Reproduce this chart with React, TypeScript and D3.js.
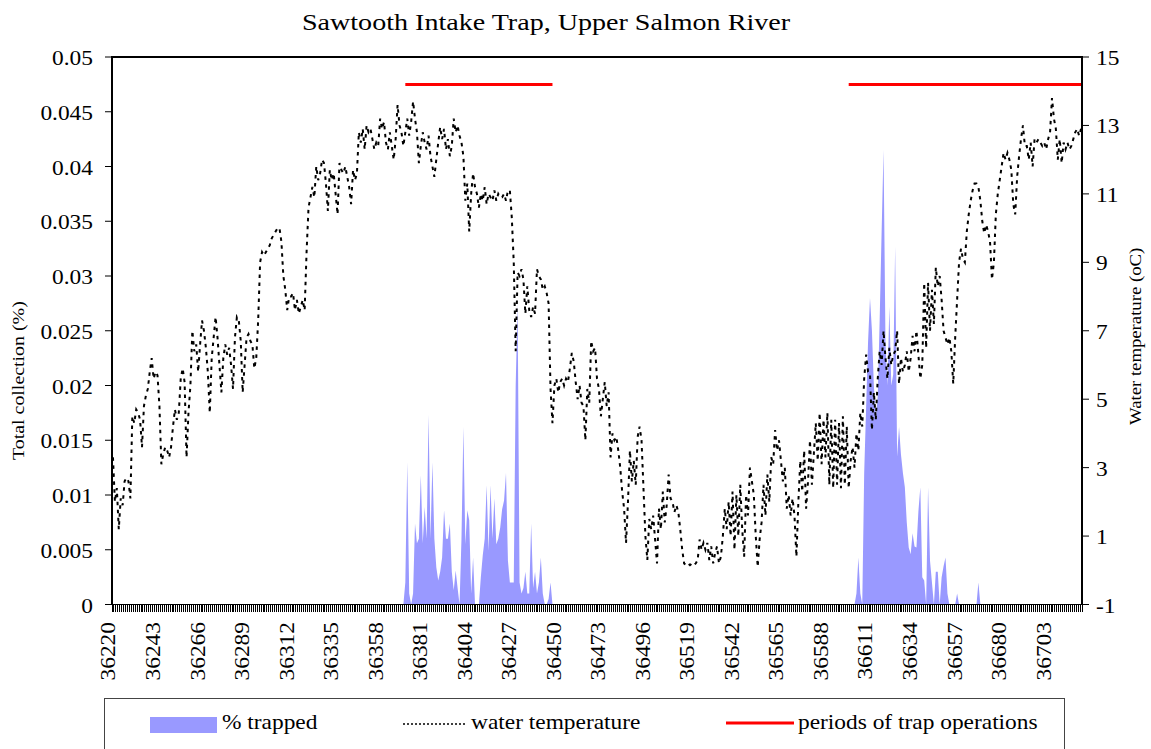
import React from 'react';
import * as d3 from 'd3';

const startDate = 36220;

const temps: number[] = [
  3.3, 2.0, 2.4, 1.2, 2.1, 1.9, 2.6, 2.7, 2.6, 2.1,
  4.5, 4.3, 4.7, 4.6, 4.4, 3.6, 4.8, 5.1, 5.3, 5.8,
  6.2, 5.6, 5.8, 5.7, 4.8, 3.1, 3.4, 3.6, 3.5, 3.3,
  3.6, 4.2, 4.7, 4.4, 4.6, 5.6, 5.9, 5.5, 3.3, 4.6,
  5.4, 7.0, 6.4, 6.6, 5.8, 6.6, 7.3, 7.0, 6.5, 5.8,
  4.6, 6.2, 6.8, 7.4, 6.8, 6.0, 5.2, 6.2, 6.6, 6.3,
  6.5, 6.0, 5.3, 6.8, 7.4, 7.3, 6.7, 5.2, 6.0, 6.8,
  6.9, 6.7, 6.6, 5.9, 6.2, 7.3, 9.0, 9.3, 9.2, 9.3,
  9.4, 9.5, 9.7, 9.8, 9.9, 10.0, 10.0, 9.6, 8.6, 8.2,
  7.6, 8.0, 8.0, 8.1, 7.6, 7.9, 7.5, 7.7, 7.9, 7.6,
  9.3, 10.6, 10.9, 11.2, 10.9, 11.8, 11.4, 11.6, 12.0, 11.9,
  11.3, 10.5, 11.7, 11.4, 11.6, 11.0, 10.4, 11.9, 11.7, 11.6,
  11.8, 11.5, 11.2, 10.7, 11.7, 11.4, 11.6, 12.8, 12.5, 12.9,
  12.3, 13.0, 12.8, 12.9, 12.6, 12.3, 12.5, 12.4, 13.2, 12.9,
  13.1, 12.5, 12.3, 12.8, 12.4, 12.0, 12.6, 13.6, 13.0, 12.8,
  12.4, 12.8, 13.2, 12.7, 13.1, 13.7, 13.2, 12.8, 11.9, 12.4,
  12.8, 12.5, 12.3, 12.7, 12.1, 11.8, 11.5, 12.0, 12.5, 12.95,
  12.6, 12.9, 12.3, 12.6, 12.1, 12.4, 13.2, 12.8, 13.0, 12.7,
  12.5, 12.1, 10.8, 11.3, 9.9, 11.0, 11.6, 11.2, 11.0, 10.6,
  11.0, 10.8, 11.2, 10.7, 11.0, 10.9, 10.8, 11.1, 10.8, 11.0,
  10.9, 10.9, 11.0, 10.8, 11.1, 11.1, 10.3, 9.0, 6.4, 8.7,
  8.6, 8.8, 8.5, 7.5, 8.3, 7.6, 7.4, 7.7, 7.5, 8.8,
  8.6, 8.5, 8.2, 8.3, 8.1, 7.8, 5.3, 4.3, 5.4, 5.6,
  5.2, 5.5, 5.6, 5.4, 5.6, 5.5, 5.9, 6.35, 6.1, 5.5,
  5.0, 5.4, 4.9, 4.8, 3.8, 5.3, 4.9, 6.7, 6.4, 6.5,
  5.6, 5.3, 4.5, 5.0, 5.5, 4.8, 5.2, 3.3, 4.0, 3.8,
  3.9, 3.5, 3.0, 2.3, 1.8, 0.8, 2.0, 3.5, 2.6, 3.2,
  2.5, 3.9, 4.2, 3.8, 2.4, 1.0, 0.3, 1.5, 1.2, 1.6,
  0.9, 0.2, 1.8, 1.2, 2.3, 1.4, 1.9, 2.8, 2.1, 2.0,
  1.7, 1.9, 1.7, 1.2, 0.6, 0.2, 0.15, 0.2, 0.15, 0.2,
  0.15, 0.2, 0.3, 0.9, 0.6, 0.8, 0.6, 0.8, 0.3, 0.7,
  0.2, 0.5, 0.7, 0.2, 0.4, 1.0, 1.8, 1.2, 2.0, 1.0,
  2.3, 0.6, 2.2, 1.0, 2.5, 1.2, 0.4, 2.2, 1.6, 3.0,
  2.6, 2.2, 1.0, 0.1, 0.9, 1.4, 2.5, 1.6, 2.8, 2.0,
  3.3, 3.1, 4.1, 3.5, 3.8, 3.2, 2.6, 3.0, 1.8, 2.2,
  1.6, 2.1, 1.6, 0.4, 2.0, 3.2, 2.3, 3.5, 1.8, 2.6,
  3.8, 2.5, 3.4, 4.3, 3.2, 4.6, 3.1, 4.4, 3.3, 4.6,
  2.5, 4.4, 2.4, 4.4, 2.5, 4.3, 2.4, 4.5, 2.5, 4.2,
  2.4, 3.2, 3.6, 3.0, 4.0, 3.5, 4.6, 4.2, 5.6, 6.3,
  5.8, 5.75, 4.1, 5.2, 4.4, 5.6, 6.4, 6.0, 7.0, 6.2,
  5.6, 6.5, 6.0, 6.3, 6.4, 7.0, 5.45, 6.2, 5.8, 6.0,
  6.4, 5.8, 6.2, 6.85, 6.4, 7.0, 6.3, 5.6, 6.0, 8.4,
  6.5, 8.4, 7.0, 8.2, 7.2, 8.85, 8.3, 8.6, 7.9, 7.0,
  6.8, 6.6, 6.8, 6.4, 5.45, 6.8, 7.9, 9.0, 9.4, 9.1,
  9.0, 9.9, 10.4, 10.8, 11.1, 11.3, 11.3, 11.2, 10.8, 10.2,
  9.85, 10.1, 9.9, 9.6, 8.5, 9.0, 10.4, 11.0, 11.4, 11.8,
  12.2, 12.0, 12.2, 12.0, 11.7, 10.7, 10.4, 11.5, 12.1, 12.6,
  13.0, 12.4, 12.4, 12.0, 12.5, 11.8, 12.6, 12.5, 12.6, 12.5,
  12.4, 12.5, 12.3, 12.6, 12.8, 13.8, 13.2, 12.9, 12.0, 12.6,
  11.9, 12.5, 12.3, 12.5, 12.3, 12.4, 12.6, 12.8, 12.9, 12.7,
  12.9,
];

const trapped1Start = 36370;
const trapped1: number[] = [
  0, 0.002, 0.013, 0.001, 0, 0.001, 0.0074, 0.0056, 0.006, 0.0118,
  0.0056, 0.0089, 0.006, 0.0173, 0.006, 0.013, 0.006, 0.0034, 0.0022, 0.003,
  0.0043, 0.0086, 0.006, 0.006, 0.0074, 0.003, 0.0013, 0.0031, 0.0015, 0,
  0.006, 0.0162, 0.0055, 0.0086, 0.0077, 0.001, 0.0043, 0, 0, 0,
  0.0025, 0.0045, 0.006, 0.0109, 0.0049, 0.0109, 0.006, 0.0097, 0.0055, 0.006,
  0.007, 0.0087, 0.0095, 0.012, 0.004, 0.002, 0.002, 0.002, 0.02, 0.0275,
  0.002, 0.001, 0.0015, 0.003, 0.001, 0.001, 0.0074, 0.0015, 0.003, 0.001,
  0.002, 0.0043, 0.001, 0, 0, 0.0005, 0.002, 0,
];

const trapped2Start = 36603;
const trapped2: number[] = [
  0, 0.001, 0.0043, 0.001, 0, 0.012, 0.018, 0.024, 0.028, 0.025,
  0.02, 0.017, 0.019, 0.026, 0.034, 0.0415, 0.024, 0.02, 0.0272, 0.02,
  0.021, 0.0327, 0.0135, 0.0162, 0.0137, 0.012, 0.0107, 0.0075, 0.0052, 0.0046,
  0.0065, 0.0053, 0.0052, 0.0085, 0.0107, 0.0025, 0.0022, 0, 0.0107, 0.004,
  0.002, 0, 0.003, 0.003, 0, 0.0025, 0.0035, 0.0043, 0.001, 0,
  0, 0, 0, 0.001, 0, 0, 0, 0, 0, 0,
  0, 0, 0, 0, 0.002, 0,
];

const trapPeriods: [number, number][] = [
  [36371, 36447],
  [36600, 36720],
];
const trapLevel = 14.2;

const leftTicks = [0, 0.005, 0.01, 0.015, 0.02, 0.025, 0.03, 0.035, 0.04, 0.045, 0.05];
const leftTickLabels = ['0', '0.005', '0.01', '0.015', '0.02', '0.025', '0.03', '0.035', '0.04', '0.045', '0.05'];
const rightTicks = [-1, 1, 3, 5, 7, 9, 11, 13, 15];
const labelEvery = 23;

const titleText = 'Sawtooth Intake Trap, Upper Salmon River';
const leftTitle = 'Total collection (%)';
const rightTitle = 'Water temperature (oC)';
const legendItems = ['% trapped', 'water temperature', 'periods of trap operations'];

const FONT = "'Liberation Serif', 'Times New Roman', serif";
const SX = 1.17;

function STxt(props: {
  x: number; y: number; size: number; anchor?: string; rotate?: number; children: React.ReactNode;
}) {
  const { x, y, size, anchor = 'start', rotate = 0, children } = props;
  return (
    <text
      transform={`translate(${x},${y}) rotate(${rotate}) scale(${SX},1)`}
      fontSize={size}
      textAnchor={anchor as any}
      fontFamily={FONT}
      fill="#000"
    >
      {children}
    </text>
  );
}

export default function App() {
  const W = 1151, H = 749;
  const L = 112, R = 1082, T = 57, B = 604.5;

  const dates = temps.map((_, i) => startDate + i);
  const x = d3.scaleBand<number>().domain(dates).range([L, R]).paddingInner(0).paddingOuter(0);
  const bw = x.bandwidth();
  const xc = (d: number) => (x(d) as number) + bw / 2;
  const yL = d3.scaleLinear().domain([0, 0.05]).range([B, T]);
  const yR = d3.scaleLinear().domain([-1, 15]).range([B, T]);

  const trappedMap = new Map<number, number>();
  trapped1.forEach((v, i) => trappedMap.set(trapped1Start + i, v));
  trapped2.forEach((v, i) => trappedMap.set(trapped2Start + i, v));
  const areaData = dates.map((d) => ({ d, v: trappedMap.get(d) ?? 0 }));

  const areaGen = d3.area<{ d: number; v: number }>()
    .x((p) => xc(p.d))
    .y0(B)
    .y1((p) => yL(p.v));
  const lineGen = d3.line<number>()
    .x((_, i) => xc(dates[i]))
    .y((t) => yR(t));

  const boundaryTicks = d3.range(dates.length + 1).map((i) => L + i * bw);
  const labelDates = dates.filter((_, i) => i % labelEvery === 0);

  return (
    <svg width={W} height={H} style={{ position: 'absolute', left: 0, top: 0, background: '#fff' }}>
      <rect x={0} y={0} width={W} height={H} fill="#fff" />
      <STxt x={546} y={30} size={24} anchor="middle">{titleText}</STxt>

      {/* area */}
      <path d={areaGen(areaData) || ''} fill="#9999FF" stroke="none" />

      {/* temperature */}
      <path d={lineGen(temps) || ''} fill="none" stroke="#000" strokeWidth={2} strokeDasharray="3.5 4.5" />

      {/* trap periods */}
      {trapPeriods.map(([a, b], k) => (
        <line key={k} x1={xc(a)} x2={b >= dates[dates.length - 1] ? R : xc(b)} y1={yR(trapLevel)} y2={yR(trapLevel)}
          stroke="#FF0000" strokeWidth={3} />
      ))}

      {/* frame */}
      <rect x={L} y={T} width={R - L} height={B - T} fill="none" stroke="#000" strokeWidth={1.5} shapeRendering="crispEdges" />

      {/* left axis */}
      {leftTicks.map((v, i) => (
        <g key={i}>
          <line x1={L - 7} x2={L} y1={yL(v)} y2={yL(v)} stroke="#000" strokeWidth={1} />
          <STxt x={93} y={yL(v) + 8} size={20} anchor="end">{leftTickLabels[i]}</STxt>
        </g>
      ))}

      {/* right axis */}
      {rightTicks.map((v) => (
        <g key={v}>
          <line x1={R} x2={R + 7} y1={yR(v)} y2={yR(v)} stroke="#000" strokeWidth={1} />
          <STxt x={1096} y={yR(v) + 8} size={20} anchor="start">{String(v)}</STxt>
        </g>
      ))}

      {/* x ticks */}
      {boundaryTicks.map((tx, i) => (
        <line key={i} x1={tx} x2={tx} y1={B} y2={B + 7} stroke="#000" strokeWidth={1} shapeRendering="crispEdges" />
      ))}
      {labelDates.map((d) => (
        <STxt key={d} x={xc(d) + 2.5} y={622} size={20} anchor="end" rotate={-90}>{String(d)}</STxt>
      ))}

      {/* axis titles */}
      <STxt x={24} y={460} size={17} anchor="start" rotate={-90}>{leftTitle}</STxt>
      <STxt x={1141} y={425} size={16} anchor="start" rotate={-90}>{rightTitle}</STxt>

      {/* legend */}
      <rect x={104.5} y={698.5} width={960} height={70} fill="#fff" stroke="#444" strokeWidth={1} />
      <rect x={150} y={717} width={67} height={16} fill="#9999FF" />
      <STxt x={222} y={729} size={20}>{legendItems[0]}</STxt>
      <line x1={403} x2={466} y1={724} y2={724} stroke="#000" strokeWidth={1.5} strokeDasharray="2 2" />
      <STxt x={471} y={729} size={20}>{legendItems[1]}</STxt>
      <line x1={726} x2={794} y1={723} y2={723} stroke="#FF0000" strokeWidth={3} />
      <STxt x={798} y={729} size={20}>{legendItems[2]}</STxt>
    </svg>
  );
}
